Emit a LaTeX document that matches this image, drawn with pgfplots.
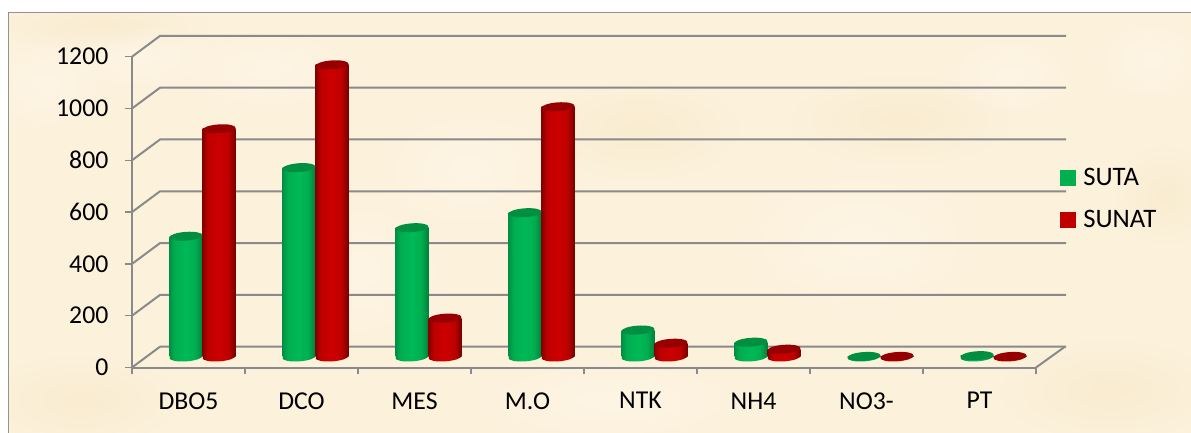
\documentclass[border=0pt]{standalone}
\usepackage{pgfplots}
\pgfplotsset{compat=1.18}
\usepackage{fontspec}
\setmainfont{Carlito}
\usetikzlibrary{fadings}

\definecolor{bgcream}{HTML}{FCF1DB}
\definecolor{bglight}{HTML}{FFF8EC}
\definecolor{bgdeep}{HTML}{F6E8C8}
\definecolor{axisgrey}{HTML}{8A8A8A}
\definecolor{framegrey}{HTML}{929292}
\definecolor{legendgreen}{HTML}{00B050}
\definecolor{legendred}{HTML}{C00000}
\definecolor{topgreen}{HTML}{008F40}
\definecolor{topred}{HTML}{960000}
\definecolor{gedgeL}{HTML}{009044}
\definecolor{gbody}{HTML}{00AE50}
\definecolor{gmid}{HTML}{00B956}
\definecolor{gedgeR}{HTML}{007F3A}
\definecolor{redgeL}{HTML}{840000}
\definecolor{rbody}{HTML}{BE0000}
\definecolor{rmid}{HTML}{CC0000}
\definecolor{redgeR}{HTML}{780000}

% Round-column shading across the width of a bar
\pgfdeclarehorizontalshading{cylgreen}{100bp}{
  color(0bp)=(gedgeL); color(25bp)=(gedgeL);
  color(33bp)=(gbody); color(50bp)=(gmid);
  color(64bp)=(gbody); color(75bp)=(gedgeR); color(100bp)=(gedgeR)}
\pgfdeclarehorizontalshading{cylred}{100bp}{
  color(0bp)=(redgeL); color(25bp)=(redgeL);
  color(33bp)=(rbody); color(50bp)=(rmid);
  color(64bp)=(rbody); color(75bp)=(redgeR); color(100bp)=(redgeR)}

% Column ends: 33 px wide discs seen from slightly above, set back to mid depth
\newcommand{\discpath}[1]{%
  \pgftransformshift{\pgfpoint{#1}{7.9pt}}%
  \pgftransformrotate{4}%
  \pgfpathellipse{\pgfpointorigin}{\pgfpoint{12.4pt}{0pt}}{\pgfpoint{0pt}{3.3pt}}}
\pgfdeclareplotmark{capgreen}{\discpath{-1.875pt}\pgfsetfillcolor{topgreen}\pgfusepathqfill}
\pgfdeclareplotmark{capred}{\discpath{22.875pt}\pgfsetfillcolor{topred}\pgfusepathqfill}
\pgfdeclareplotmark{basegreen}{\discpath{-1.875pt}\pgfshadepath{cylgreen}{0}\pgfusepath{discard}}
\pgfdeclareplotmark{basered}{\discpath{22.875pt}\pgfshadepath{cylred}{0}\pgfusepath{discard}}

% One column: shading is per path, so each bar is its own plot
\newcommand{\column}[4]{% position, value, bar shift, base colour name
  \addplot[forget plot,only marks,mark=base#4] coordinates {(#1,0)};
  \addplot[forget plot,ybar,bar width=24.75pt,bar shift=#3,draw=none,shading=cyl#4,xshift=10.5pt,yshift=7.9pt] coordinates {(#1,#2)};
  \addplot[forget plot,only marks,mark=cap#4] coordinates {(#1,#2)};
}

% Soft patch of the parchment backdrop: centre x, centre y (from the top), radii, colour
\tikzfading[name=softblob,inner color=transparent!45,outer color=transparent!100]
\newcommand{\patch}[5]{%
  \fill[#5,path fading=softblob,fit fading=true]
    (#1,432-#2) ellipse [x radius=#3,y radius=#4];}

\begin{document}
\begin{tikzpicture}[x=0.75pt,y=0.75pt]
  \path[use as bounding box] (0,0) rectangle (1191,432);
  \fill[white] (0,0) rectangle (1191,432);
  \fill[bgcream] (8.5,-2) rectangle (1193,419.5);
  \begin{scope}
    \clip (9,0) rectangle (1191,419);
    \patch{45}{85}{70}{50}{bglight}
    \patch{140}{55}{90}{40}{bglight}
    \patch{270}{70}{100}{45}{bglight}
    \patch{470}{170}{100}{70}{bglight}
    \patch{360}{270}{100}{80}{bglight}
    \patch{1010}{75}{70}{45}{bglight}
    \patch{1150}{60}{60}{45}{bglight}
    \patch{610}{400}{150}{45}{bglight}
    \patch{860}{240}{130}{80}{bglight}
    \patch{1165}{195}{50}{50}{bgdeep}
    \patch{640}{130}{100}{50}{bgdeep}
    \patch{100}{25}{110}{25}{bgdeep}
    \patch{900}{120}{110}{45}{bgdeep}
    \patch{80}{400}{100}{45}{bgdeep}
    \patch{1110}{390}{110}{50}{bgdeep}
  \end{scope}
  \draw[framegrey,line width=0.9pt] (8.5,-2) -- (8.5,419.5) -- (1193,419.5);

  \begin{axis}[
    at={(99pt,48.375pt)}, anchor=south west,
    scale only axis, width=678pt, height=233.1pt,
    clip=false,
    xmin=-0.5, xmax=7.5, ymin=0, ymax=1200,
    axis lines=left,
    axis line style={-,axisgrey,line width=1.5pt},
    tick style={axisgrey,line width=1pt},
    tick align=outside,
    major tick length=5.2pt,
    xtick={-0.5,0.5,...,7.5},
    x tick label as interval,
    xticklabels={DBO5,DCO,MES,M.O,NTK,NH4,NO3-,PT},
    ytick={0,200,...,1200},
    tick label style={font=\fontsize{19.3}{22}\selectfont,black},
    /pgf/number format/assume math mode=true,
    /pgf/number format/1000 sep={},
    yticklabel style={xshift=-9pt},
    xticklabel style={yshift=-10pt},
    legend cell align=left,
    legend image code/.code={\fill[#1] (0pt,-5.6pt) rectangle (11.2pt,5.6pt);\path (15pt,0pt);},
    legend style={at={(1.022,0.66)},anchor=north west,draw=none,fill=none,
      font=\fontsize{20}{22}\selectfont,row sep=13pt},
  ]
    % Floor and wall: each level runs back along the side wall and across the rear
    \pgfplotsinvokeforeach{0,200,...,1200}{
      \draw[axisgrey,line width=1.5pt] (axis cs:-0.5,#1) -- ++(21pt,15.6pt) -- ++(679.5pt,0pt);
    }
    \draw[axisgrey,line width=1.5pt] (axis cs:7.5,0) -- ++(21.7pt,15.6pt);

    % SUTA
    \column{0}{466}{-12.375pt}{green}
    \column{1}{731}{-12.375pt}{green}
    \column{2}{499}{-12.375pt}{green}
    \column{3}{557}{-12.375pt}{green}
    \column{4}{104}{-12.375pt}{green}
    \column{5}{57}{-12.375pt}{green}
    \column{6}{2}{-12.375pt}{green}
    \column{7}{5}{-12.375pt}{green}
    % SUNAT
    \column{0}{881}{12.375pt}{red}
    \column{1}{1128}{12.375pt}{red}
    \column{2}{150}{12.375pt}{red}
    \column{3}{966}{12.375pt}{red}
    \column{4}{53}{12.375pt}{red}
    \column{5}{30}{12.375pt}{red}
    \column{6}{2}{12.375pt}{red}
    \column{7}{2}{12.375pt}{red}
    \addlegendimage{legendgreen}
    \addlegendentry{SUTA}
    \addlegendimage{legendred}
    \addlegendentry{SUNAT}
  \end{axis}
\end{tikzpicture}
\end{document}
